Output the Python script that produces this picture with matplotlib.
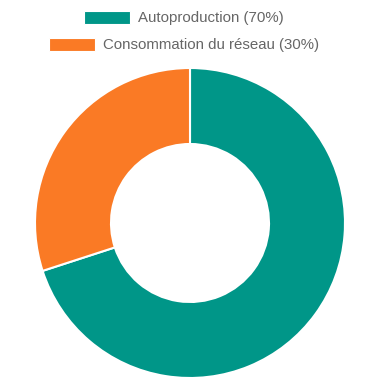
import matplotlib
matplotlib.use("Agg")
import matplotlib.pyplot as plt
from matplotlib.patches import Patch

plt.rcParams['font.family'] = ['Liberation Sans', 'DejaVu Sans']

labels = ["Autoproduction (70%)", "Consommation du réseau (30%)"]
values = [70, 30]
colors = ["#009688", "#FA7A25"]

W = 381
fig = plt.figure(figsize=(3.81, 3.81), dpi=100)
R = 155
cx, cy = 190, 223
ax = fig.add_axes([(cx - R) / W, (W - cy - R) / W, 2 * R / W, 2 * R / W])
ax.pie(values, colors=colors, startangle=90, counterclock=False,
       radius=1, wedgeprops=dict(width=1 - 79 / 155, edgecolor="white", linewidth=1.5))
ax.set_xlim(-1, 1)
ax.set_ylim(-1, 1)
ax.set_aspect("equal")
ax.axis("off")

fs = 10.8
px = fs * 100 / 72
ys = [18, 45]
for lab, col, y in zip(labels, colors, ys):
    leg = fig.legend(handles=[Patch(facecolor=col, edgecolor="white", linewidth=0.8)], labels=[lab],
                     loc="center", bbox_to_anchor=(184 / W, 1 - y / W), frameon=False,
                     fontsize=fs, handlelength=46 / px, handleheight=14 / px, handletextpad=8 / px,
                     borderpad=0, borderaxespad=0)
    for t in leg.get_texts():
        t.set_color("#666666")

fig.savefig("out.png", dpi=100)
